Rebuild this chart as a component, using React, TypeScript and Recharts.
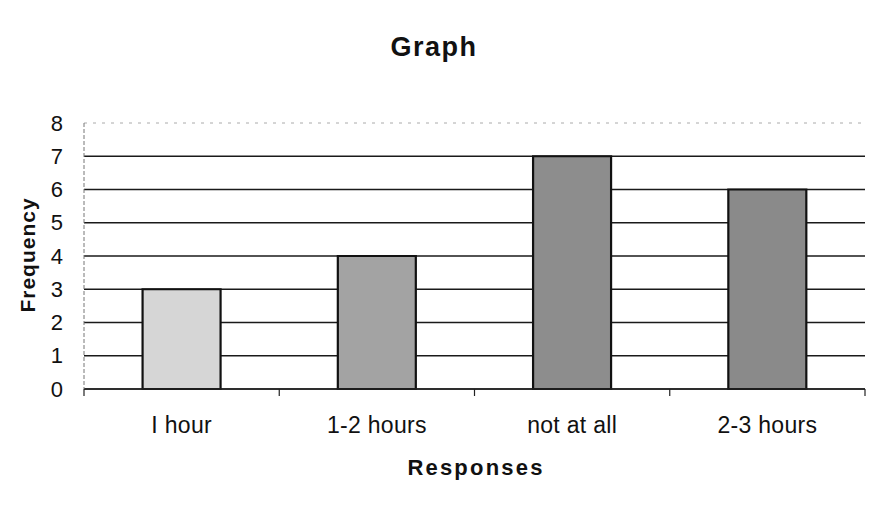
import React from 'react';
import { BarChart, Bar, XAxis, YAxis, CartesianGrid, Cell, Customized } from 'recharts';

const categories = ['I hour', '1-2 hours', 'not at all', '2-3 hours'];
const frequencies = [3, 4, 7, 6];
const yTicks = [0, 1, 2, 3, 4, 5, 6, 7, 8];
const titleText = 'Graph';
const xTitle = 'Responses';
const yTitle = 'Frequency';

const barFills = ['#d6d6d6', '#a3a3a3', '#8d8d8d', '#8a8a8a'];

const data = categories.map((c, i) => ({ category: c, frequency: frequencies[i] }));

const FONT = '"Liberation Sans", Arial, sans-serif';

const XTick = (props: any) => {
  const { x, y, payload, index, width, visibleTicksCount } = props;
  const half = width / visibleTicksCount / 2;
  return (
    <g>
      {index === 0 && <line x1={x - half} y1={y} x2={x - half} y2={y + 7} stroke="#222" strokeWidth={1.2} />}
      <line x1={x + half} y1={y} x2={x + half} y2={y + 7} stroke="#222" strokeWidth={1.2} />
      <text x={x} y={y + 36} textAnchor="middle" dominantBaseline="central" fontFamily={FONT} fontSize={23} letterSpacing={0.3} fill="#111">
        {payload.value}
      </text>
    </g>
  );
};

const YTick = (props: any) => {
  const { x, y, payload } = props;
  return (
    <text x={x} y={y} textAnchor="end" dominantBaseline="central" fontFamily={FONT} fontSize={22} fill="#111">
      {payload.value}
    </text>
  );
};

const Titles = () => (
  <g>
    <text x={434} y={47} textAnchor="middle" dominantBaseline="central" fontFamily={FONT} fontWeight="bold" fontSize={27} letterSpacing={1.5} fill="#111">
      {titleText}
    </text>
    <text x={476} y={467} textAnchor="middle" dominantBaseline="central" fontFamily={FONT} fontWeight="bold" fontSize={22} letterSpacing={2.2} fill="#111">
      {xTitle}
    </text>
    <text x={27} y={255} textAnchor="middle" dominantBaseline="central" transform="rotate(-90 27 255)" fontFamily={FONT} fontWeight="bold" fontSize={21} letterSpacing={1} fill="#111">
      {yTitle}
    </text>
  </g>
);

const gridLine = (props: any) => {
  const { x1, x2, y1, y2 } = props;
  const isTop = y1 < 130;
  return (
    <line
      key={`g-${y1}`}
      x1={x1}
      x2={x2}
      y1={y1}
      y2={y2}
      stroke={isTop ? '#aaa' : '#1a1a1a'}
      strokeWidth={isTop ? 1 : 1.5}
      strokeDasharray={isTop ? '3 6' : undefined}
    />
  );
};

export default function App() {
  return (
    <div style={{ position: 'absolute', left: 0, top: 0, background: '#fff' }}>
      <BarChart
        width={874}
        height={512}
        data={data}
        margin={{ top: 123, right: 9, left: 0, bottom: 63 }}
        barCategoryGap="30%"
      >
        <CartesianGrid vertical={false} horizontal={gridLine} />
        <XAxis
          dataKey="category"
          height={60}
          tickSize={0}
          tickMargin={0}
          tick={<XTick />}
          axisLine={{ stroke: '#222', strokeWidth: 1.5 }}
          interval={0}
        />
        <YAxis
          width={84}
          domain={[0, 8]}
          ticks={yTicks}
          interval={0}
          tickSize={0}
          tickMargin={21}
          tick={<YTick />}
          axisLine={{ stroke: '#777', strokeWidth: 1, strokeDasharray: '4 2' }}
        />
        <YAxis
          yAxisId="right"
          orientation="right"
          width={0}
          domain={[0, 8]}
          tick={false}
          tickLine={false}
          axisLine={{ stroke: '#888', strokeWidth: 1, strokeDasharray: '2 3' }}
        />
        <Bar dataKey="frequency" stroke="#111" strokeWidth={2.2} isAnimationActive={false}>
          {data.map((d, i) => (
            <Cell key={d.category} fill={barFills[i]} />
          ))}
        </Bar>
        <Customized component={Titles} />
      </BarChart>
    </div>
  );
}
